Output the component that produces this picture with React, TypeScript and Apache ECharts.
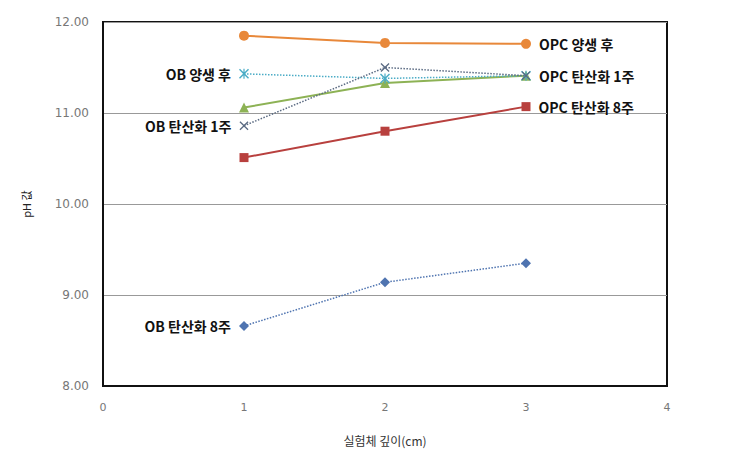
import React, { useEffect, useRef } from "react";
import * as echarts from "echarts";

const depths = [1, 2, 3];
const opcCured = [11.85, 11.77, 11.76];
const opcCarb1 = [11.06, 11.33, 11.41];
const opcCarb8 = [10.51, 10.8, 11.07];
const obCured = [11.43, 11.38, 11.41];
const obCarb1 = [10.86, 11.5, 11.41];
const obCarb8 = [8.66, 9.14, 9.35];
const yTicks = [8, 9, 10, 11, 12];

const X_PATH =
  "path://M0,1 L1,0 L5,4 L9,0 L10,1 L6,5 L10,9 L9,10 L5,6 L1,10 L0,9 L4,5 Z";
const STAR_PATH =
  "path://M0,1 L1,0 L5,4 L9,0 L10,1 L6,5 L10,9 L9,10 L5,6 L1,10 L0,9 L4,5 Z M4.4,0 L5.6,0 L5.6,10 L4.4,10 Z";

const labelStyle = {
  color: "#111",
  fontSize: 14,
  fontWeight: "bold" as const,
  fontFamily: "'Noto Sans CJK KR', sans-serif",
};

function build(
  name: string,
  values: number[],
  color: string,
  symbol: string,
  symbolSize: number,
  dotted: boolean,
  labelIdx: number,
  pos: "left" | "right"
) {
  return {
    name,
    type: "line",
    symbol,
    symbolSize,
    itemStyle: { color },
    lineStyle: { color, width: dotted ? 1.5 : 2, type: dotted ? "dotted" : "solid" },
    data: values.map((v, i) => {
      const item: any = { value: [depths[i], v] };
      if (i === labelIdx) {
        item.label = {
          show: true,
          position: pos,
          distance: 8,
          formatter: name,
          ...labelStyle,
        };
      }
      return item;
    }),
    z: dotted ? 3 : 2,
  };
}

export default function App() {
  const ref = useRef<HTMLDivElement>(null);
  useEffect(() => {
    if (!ref.current) return;
    const chart = echarts.init(ref.current, undefined, { renderer: "svg" });
    chart.setOption({
      animation: false,
      backgroundColor: "#fff",
      grid: {
        left: 95,
        right: 74,
        top: 14,
        bottom: 61,
        show: true,
        borderColor: "#111",
        borderWidth: 2,
      },
      xAxis: {
        type: "value",
        min: 0,
        max: 4,
        interval: 1,
        name: "실험체 깊이(cm)",
        nameLocation: "middle",
        nameGap: 48,
        nameTextStyle: { color: "#333", fontSize: 12, fontFamily: "'Noto Sans CJK KR', sans-serif" },
        axisLine: { show: true, lineStyle: { color: "#111", width: 2 } },
        axisTick: { show: false },
        axisLabel: { color: "#777", fontSize: 11, margin: 16, fontFamily: "'DejaVu Sans', sans-serif" },
        splitLine: { show: false },
      },
      yAxis: {
        type: "value",
        min: yTicks[0],
        max: yTicks[yTicks.length - 1],
        interval: 1,
        name: "pH 값",
        nameLocation: "middle",
        nameGap: 72,
        nameRotate: 90,
        nameTextStyle: { color: "#222", fontSize: 11, fontFamily: "'Noto Sans CJK KR', sans-serif" },
        axisLine: { show: true, lineStyle: { color: "#111", width: 2 } },
        axisTick: { show: false },
        axisLabel: {
          color: "#777",
          fontSize: 12,
          margin: 14,
          fontFamily: "'DejaVu Sans', sans-serif",
          formatter: (v: number) => v.toFixed(2),
        },
        splitLine: { show: true, lineStyle: { color: "#999", width: 1 } },
      },
      series: [
        build("OPC 양생 후", opcCured, "#E8883A", "circle", 10, false, 2, "right"),
        build("OPC 탄산화 1주", opcCarb1, "#8DB255", "triangle", 10, false, 2, "right"),
        build("OPC 탄산화 8주", opcCarb8, "#B8403E", "rect", 9, false, 2, "right"),
        build("OB 양생 후", obCured, "#4BACC6", STAR_PATH, 10, true, 0, "left"),
        build("OB 탄산화 1주", obCarb1, "#5A6A82", X_PATH, 9, true, 0, "left"),
        build("OB 탄산화 8주", obCarb8, "#4F74B0", "diamond", 10, true, 0, "left"),
      ],
    });
    return () => chart.dispose();
  }, []);
  return <div ref={ref} style={{ width: 733, height: 443 }} />;
}
